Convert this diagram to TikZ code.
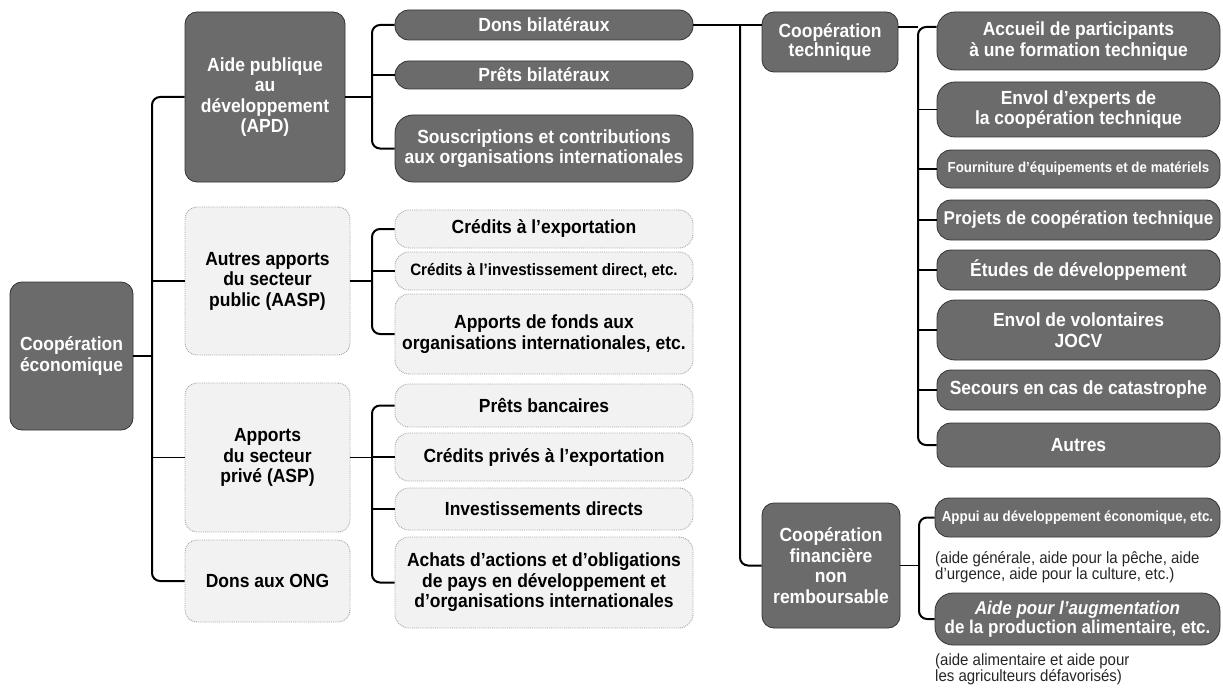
\documentclass[tikz,border=0pt]{standalone}
\usepackage{fontspec}
\setmainfont{Liberation Sans}[FakeStretch=0.92]
\begin{document}
\begin{tikzpicture}[x=1pt,y=-1pt,
  every node/.style={inner sep=0pt, align=center},
  mainfont/.style={font=\bfseries\fontsize{19}{20.5}\selectfont},
  dark/.style={mainfont, fill=black!58, draw=black!80, line width=0.8pt, text=white},
  light/.style={mainfont, fill=black!5, draw=black!35, densely dotted, line width=0.9pt, text=black},
  big/.style={rounded corners=12pt},
  pill/.style={rounded corners=14pt},
  midcol/.style={minimum width=298pt},
  rightcol/.style={minimum width=283pt},
  link/.style={draw=black, line width=1.2pt},
  brk/.style={draw=black, line width=2pt, rounded corners=8pt},
  note/.style={anchor=north west, align=left, font=\fontsize{16.3}{16}\selectfont, text=black!85}
]
\useasboundingbox (0,0) rectangle (1223,690);

% level 0 and 1
\node[dark,big,minimum width=123pt,minimum height=148pt] (ceco) at (71.5,356) {Coopération\\économique};
\node[dark,big,minimum width=160pt,minimum height=170pt] (apd) at (265,97) {Aide publique\\au\\développement\\(APD)};
\node[light,big,minimum width=165pt,minimum height=148pt] (aasp) at (267.5,281) {Autres apports\\du secteur\\public (AASP)};
\node[light,big,minimum width=165pt,minimum height=149pt] (asp) at (267.5,457.5) {Apports\\du secteur\\privé (ASP)};
\node[light,big,minimum width=165pt,minimum height=82pt] (ong) at (267.5,581) {Dons aux ONG};

% level 2
\node[dark,pill,midcol,minimum height=30pt] (dons) at (544,25) {Dons bilatéraux};
\node[dark,pill,midcol,minimum height=28pt] (prets) at (544,75) {Prêts bilatéraux};
\node[dark,pill,midcol,minimum height=67pt,rounded corners=18pt] (sousc) at (544,148.5) {Souscriptions et contributions\\aux organisations internationales};
\node[light,pill,midcol,minimum height=38pt] (cexp) at (544,229) {Crédits à l’exportation};
\node[light,pill,midcol,minimum height=38pt,font=\bfseries\fontsize{16.5}{19}\selectfont] (cinv) at (544,271) {Crédits à l’investissement direct, etc.};
\node[light,pill,midcol,minimum height=80pt] (afonds) at (544,334) {Apports de fonds aux\\organisations internationales, etc.};
\node[light,pill,midcol,minimum height=43pt] (pban) at (544,405.5) {Prêts bancaires};
\node[light,pill,midcol,minimum height=48pt] (cpriv) at (544,457) {Crédits privés à l’exportation};
\node[light,pill,midcol,minimum height=42pt] (invd) at (544,509) {Investissements directs};
\node[light,pill,midcol,minimum height=91pt] (achats) at (544,582.5) {Achats d’actions et d’obligations\\de pays en développement et\\d’organisations internationales};

% level 3
\node[dark,big,minimum width=136pt,minimum height=60pt,font=\bfseries\fontsize{19}{19}\selectfont] (ctech) at (830,42) {Coopération\\technique};
\node[dark,pill,rightcol,minimum height=58pt,rounded corners=18pt] (accueil) at (1078.5,41) {Accueil de participants\\à une formation technique};
\node[dark,pill,rightcol,minimum height=55pt,rounded corners=18pt] (experts) at (1078.5,109.5) {Envol d’experts de\\la coopération technique};
\node[dark,pill,rightcol,minimum height=38pt,font=\bfseries\fontsize{14.5}{16}\selectfont] (fourn) at (1078.5,169) {Fourniture d’équipements et de matériels};
\node[dark,pill,rightcol,minimum height=40pt,font=\bfseries\fontsize{18.5}{20}\selectfont] (projets) at (1078.5,220) {Projets de coopération technique};
\node[dark,pill,rightcol,minimum height=40pt] (etudes) at (1078.5,270) {Études de développement};
\node[dark,pill,rightcol,minimum height=60pt,rounded corners=18pt] (volont) at (1078.5,330) {Envol de volontaires\\JOCV};
\node[dark,pill,rightcol,minimum height=40pt] (secours) at (1078.5,390) {Secours en cas de catastrophe};
\node[dark,pill,rightcol,minimum height=44pt] (autres) at (1078.5,445) {Autres};
\node[dark,big,minimum width=138pt,minimum height=125pt] (cfin) at (831,565.5) {Coopération\\financière\\non\\remboursable};
\node[dark,pill,minimum width=285pt,minimum height=39pt,font=\bfseries\fontsize{14.5}{16}\selectfont] (appui) at (1077.5,517.5) {Appui au développement économique, etc.};
\node[note] (note1) at (935,551) {(aide générale, aide pour la pêche, aide\\d’urgence, aide pour la culture, etc.)};
\node[dark,pill,minimum width=285pt,minimum height=52pt,rounded corners=18pt,font=\bfseries\fontsize{18.5}{19}\selectfont] (aidep) at (1077.5,619) {{\itshape Aide pour l’augmentation}\\de la production alimentaire, etc.};
\node[note] (note2) at (935,653) {(aide alimentaire et aide pour\\les agriculteurs défavorisés)};

% junction coordinates
\coordinate (s1) at (152,356);
\coordinate (b1) at (372,97);
\coordinate (b2) at (372,281);
\coordinate (b3) at (372,457.5);
\coordinate (j) at (740,25);
\coordinate (k) at (918,27);
\coordinate (m) at (919,565.5);

% main spine
\draw[link] (ceco.east) -- (s1);
\draw[brk] (apd.west) -| (s1) |- (ong.west);
\draw[link] (aasp.west) -- (aasp.west -| s1);
\draw[link] (asp.west) -- (asp.west -| s1);

% APD bracket
\draw[link] (apd.east) -- (b1);
\draw[brk] (dons.west) -| (b1) |- (sousc.west);
\draw[link] (prets.west) -- (prets.west -| b1);

% AASP bracket
\draw[link] (aasp.east) -- (b2);
\draw[brk] (cexp.west) -| (b2) |- (afonds.west);
\draw[link] (cinv.west) -- (cinv.west -| b2);

% ASP bracket
\draw[link] (asp.east) -- (b3);
\draw[brk] (pban.west) -| (b3) |- (achats.west);
\draw[link] (cpriv.west) -- (cpriv.west -| b3);
\draw[link] (invd.west) -- (invd.west -| b3);

% dons -> technique / financiere
\draw[link] (dons.east) -- (dons.east -| ctech.west);
\draw[brk] (j) |- (cfin.west);

% technique bracket
\draw[link] (ctech.east |- k) -- (k);
\draw[brk] (accueil.west |- k) -- (k) |- (autres.west);
\draw[link] (experts.west) -- (experts.west -| k);
\draw[link] (fourn.west) -- (fourn.west -| k);
\draw[link] (projets.west) -- (projets.west -| k);
\draw[link] (etudes.west) -- (etudes.west -| k);
\draw[link] (volont.west) -- (volont.west -| k);
\draw[link] (secours.west) -- (secours.west -| k);

% financiere bracket
\draw[link] (cfin.east) -- (m);
\draw[brk] (appui.west) -| (m) |- (aidep.west);
\end{tikzpicture}
\end{document}
